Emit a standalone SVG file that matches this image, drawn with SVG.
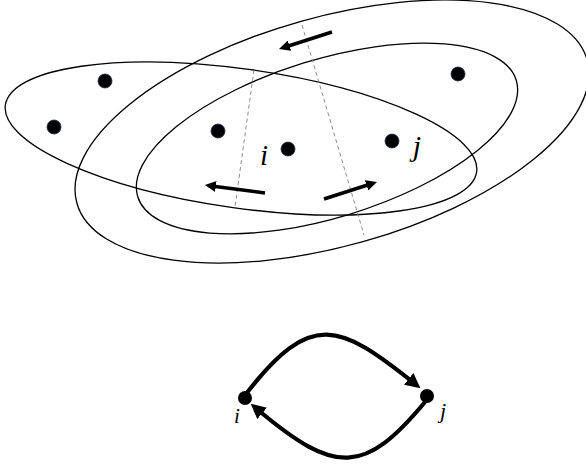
<svg xmlns="http://www.w3.org/2000/svg" width="586" height="470" viewBox="0 0 586 470">
<style>
.ell{fill:none;stroke:#000;stroke-width:1.3}
.dash{fill:none;stroke:#808080;stroke-width:0.9;stroke-dasharray:4 3}
.arr{fill:none;stroke:#000;stroke-width:3.5;marker-end:url(#ah)}
.edge{fill:none;stroke:#000;stroke-width:4.2;marker-end:url(#ahb)}
.dot{fill:#000;stroke:#1c2a4a;stroke-width:0.8}
.lbl{font-family:"Liberation Serif","DejaVu Serif",serif;font-style:italic;fill:#000}
</style>
<defs>
<marker id="ah" viewBox="0 0 10 10" refX="4" refY="5" markerUnits="userSpaceOnUse" markerWidth="11" markerHeight="11" orient="auto"><path d="M0,0 L10,5 L0,10 z" fill="#000"/></marker>
<marker id="ahb" viewBox="0 0 10 10" refX="4.5" refY="5" markerUnits="userSpaceOnUse" markerWidth="15" markerHeight="15" orient="auto"><path d="M0,0 L10,5 L0,10 z" fill="#000"/></marker>
</defs>
<g id="sets">
<ellipse id="setA" class="ell" cx="241" cy="138.5" rx="238" ry="69.5" transform="rotate(8.06 241 138.5)"/>
<ellipse id="setB" class="ell" cx="332" cy="131.5" rx="265" ry="114.5" transform="rotate(-15.7 332 131.5)"/>
<ellipse id="setC" class="ell" cx="327" cy="138.5" rx="198" ry="79" transform="rotate(-17.1 327 138.5)"/>
</g>
<g id="cuts">
<line class="dash" x1="254" y1="70" x2="235" y2="207"/>
<line class="dash" x1="302" y1="25" x2="364" y2="235"/>
</g>
<g id="points">
<circle class="dot" cx="105" cy="81" r="7"/>
<circle class="dot" cx="54" cy="127" r="7"/>
<circle class="dot" cx="218" cy="131" r="7"/>
<circle id="pi" class="dot" cx="288" cy="149" r="7"/>
<circle id="pj" class="dot" cx="392" cy="141" r="7"/>
<circle class="dot" cx="458" cy="74" r="7"/>
</g>
<g id="flow-arrows">
<path class="arr" d="M332,32 L285.3,47"/>
<path class="arr" d="M265,193 L211.5,185.9"/>
<path class="arr" d="M324,199 L370.7,184"/>
</g>
<g id="top-labels">
<text class="lbl" x="264" y="165" font-size="29" text-anchor="middle">i</text>
<text class="lbl" x="417" y="156" font-size="30" text-anchor="middle">j</text>
</g>
<g id="connectors">
<path class="edge" d="M246,394 C311,309.5 340,324 414,383"/>
<path class="edge" d="M425,402 C365,474 336,476 257,409"/>
</g>
<g id="node-i">
<circle cx="245" cy="398" r="7" fill="#000"/>
<text class="lbl" x="237" y="423" font-size="21" text-anchor="middle">i</text>
</g>
<g id="node-j">
<circle cx="427" cy="396" r="7" fill="#000"/>
<text class="lbl" x="443" y="418" font-size="22" text-anchor="middle">j</text>
</g>
</svg>
